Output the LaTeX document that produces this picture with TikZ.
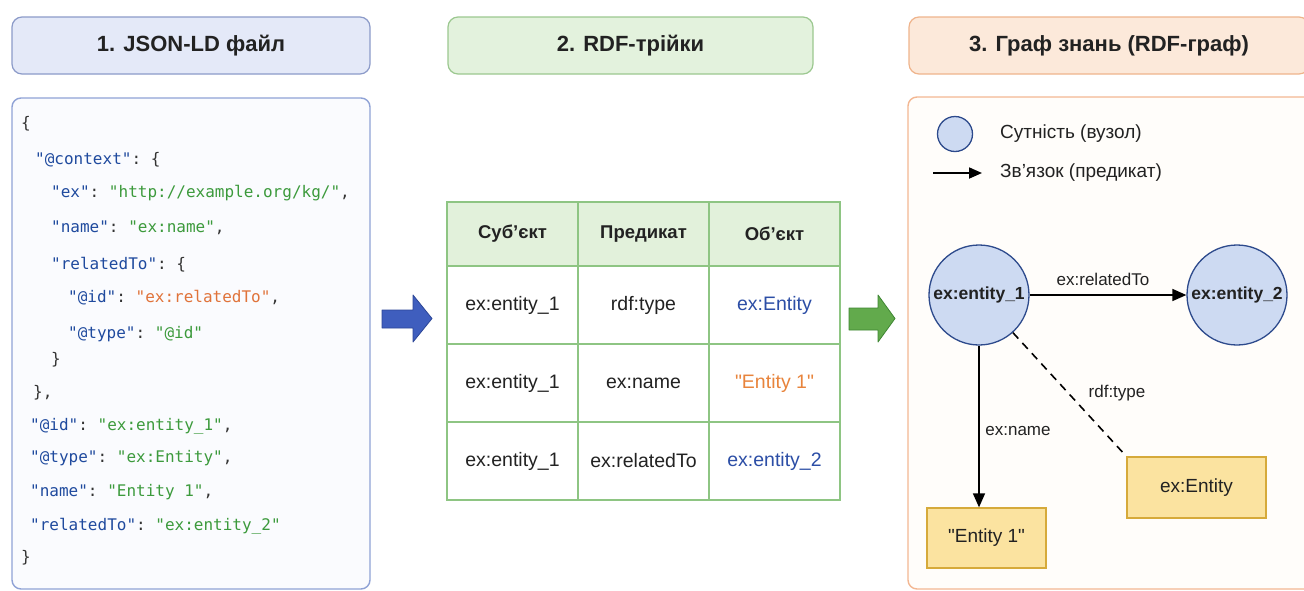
\documentclass[tikz,border=0pt]{standalone}
\usepackage{fontspec}
\setmainfont{Liberation Sans}[Ligatures=TeXOff]
\setmonofont{DejaVu Sans Mono}
\usetikzlibrary{arrows.meta}

% palette
\definecolor{hdrAfill}{HTML}{E4E9F8}
\definecolor{hdrAline}{HTML}{8C9BC9}
\definecolor{hdrBfill}{HTML}{E3F2DD}
\definecolor{hdrBline}{HTML}{9CC890}
\definecolor{hdrCfill}{HTML}{FCE9DA}
\definecolor{hdrCline}{HTML}{EFB48C}
\definecolor{panelAline}{HTML}{8FA2D6}
\definecolor{panelAfill}{HTML}{FAFBFE}
\definecolor{panelCline}{HTML}{F3B792}
\definecolor{panelCfill}{HTML}{FFFDFA}
\definecolor{jsonkey}{HTML}{1F4A9E}
\definecolor{jsonstr}{HTML}{3C9A3C}
\definecolor{jsonorange}{HTML}{E0733A}
\definecolor{jsonpunct}{HTML}{333333}
\definecolor{tblline}{HTML}{8EC583}
\definecolor{tblhead}{HTML}{E2F1DB}
\definecolor{valblue}{HTML}{2C4EA6}
\definecolor{valorange}{HTML}{E8843C}
\definecolor{arrowblue}{HTML}{3F5EBE}
\definecolor{arrowblueline}{HTML}{2C4697}
\definecolor{arrowgreen}{HTML}{62AA4C}
\definecolor{arrowgreenline}{HTML}{3E8632}
\definecolor{nodefill}{HTML}{CDDAF2}
\definecolor{nodeline}{HTML}{2D4A8C}
\definecolor{litfill}{HTML}{FBE3A0}
\definecolor{litline}{HTML}{D6AA3A}
\definecolor{ink}{HTML}{222222}

\newcommand\jkey[1]{\textcolor{jsonkey}{"#1"}}
\newcommand\jstr[1]{\textcolor{jsonstr}{"#1"}}
\newcommand\jorg[1]{\textcolor{jsonorange}{"#1"}}

\tikzset{
  header/.style={draw, line width=1.2pt, rounded corners=10pt, minimum height=57pt,
    font=\bfseries\fontsize{22}{22}\selectfont, text=ink},
  panel/.style={line width=1.4pt, rounded corners=9pt},
  codeline/.style={anchor=west, inner sep=0pt, text=jsonpunct,
    font=\ttfamily\fontsize{16}{16}\selectfont, text height=11pt, text depth=3pt},
  cell/.style={draw=tblline, line width=1.3pt, minimum width=131pt, minimum height=78pt,
    inner sep=0pt, text=ink, font=\fontsize{19.5}{19.5}\selectfont},
  headcell/.style={cell, fill=tblhead, minimum height=64pt, font=\bfseries\fontsize{18.5}{18.5}\selectfont},
  entity/.style={circle, draw=nodeline, fill=nodefill, line width=1.3pt, minimum size=100pt,
    inner sep=0pt, text=ink, font=\bfseries\fontsize{17.5}{17.5}\selectfont},
  literal/.style={draw=litline, fill=litfill, line width=1.3pt, inner sep=0pt, text=ink,
    font=\fontsize{19}{19}\selectfont},
  edgelabel/.style={text=ink, inner sep=0pt, font=\fontsize{17}{17}\selectfont},
  legendtext/.style={anchor=west, text=ink, inner sep=0pt, font=\fontsize{19}{19}\selectfont},
  rel/.style={line width=1.6pt, -{Triangle[length=14pt,width=12pt]}},
}

\begin{document}
\begin{tikzpicture}[x=1pt,y=-1pt]
\useasboundingbox (0,0) rectangle (1304,590);
\clip (0,0) rectangle (1304,590);
\fill[white] (0,0) rectangle (1304,590);

% column headers
\node[header, fill=hdrAfill, draw=hdrAline, minimum width=358pt] (hA) at (191,45.5) {1. JSON-LD файл};
\node[header, fill=hdrBfill, draw=hdrBline, minimum width=365pt] (hB) at (630.5,45.5) {2. RDF-трійки};
\node[header, fill=hdrCfill, draw=hdrCline, minimum width=400pt] (hC) at (1109,45.5) {3. Граф знань (RDF-граф)};

% panels
\draw[panel, draw=panelAline, fill=panelAfill] (12,98) rectangle (370,589);
\draw[panel, draw=panelCline, fill=panelCfill] (908,97) rectangle (1318,589);

% JSON-LD source
\node[codeline] (c1)  at (21,124) {\{};
\node[codeline] (c2)  at (35,160) {\jkey{@context}: \{};
\node[codeline] (c3)  at (51,193) {\jkey{ex}: \jstr{http://example.org/kg/},};
\node[codeline] (c4)  at (51,228) {\jkey{name}: \jstr{ex:name},};
\node[codeline] (c5)  at (51,265) {\jkey{relatedTo}: \{};
\node[codeline] (c6)  at (68,298) {\jkey{@id}: \jorg{ex:relatedTo},};
\node[codeline] (c7)  at (68,334) {\jkey{@type}: \jstr{@id}};
\node[codeline] (c8)  at (51,360) {\}};
\node[codeline] (c9)  at (33,393) {\},};
\node[codeline] (c10) at (30,426) {\jkey{@id}: \jstr{ex:entity\_1},};
\node[codeline] (c11) at (30,458) {\jkey{@type}: \jstr{ex:Entity},};
\node[codeline] (c12) at (30,492) {\jkey{name}: \jstr{Entity 1},};
\node[codeline] (c13) at (30,526) {\jkey{relatedTo}: \jstr{ex:entity\_2}};
\node[codeline] (c14) at (21,558) {\}};

% step arrows
\draw[fill=arrowblue, draw=arrowblueline, line width=0.8pt, line join=round]
  (382,310) -- (413,310) -- (413,295) -- (432,318.5) -- (413,342) -- (413,328) -- (382,328) -- cycle;
\draw[fill=arrowgreen, draw=arrowgreenline, line width=0.8pt, line join=round]
  (849,308) -- (878,308) -- (878,295) -- (895,318.5) -- (878,342) -- (878,330) -- (849,330) -- cycle;

% triple table
\node[headcell] (t00) at (512.5,234) {Суб’єкт};
\node[headcell] (t01) at (643.5,234) {Предикат};
\node[headcell] (t02) at (774.5,234) {Об’єкт};
\node[cell] (t10) at (512.5,305) {ex:entity\_1};
\node[cell] (t11) at (643.5,305) {rdf:type};
\node[cell, text=valblue] (t12) at (774.5,305) {ex:Entity};
\node[cell] (t20) at (512.5,383) {ex:entity\_1};
\node[cell] (t21) at (643.5,383) {ex:name};
\node[cell, text=valorange] (t22) at (774.5,383) {"Entity 1"};
\node[cell] (t30) at (512.5,461) {ex:entity\_1};
\node[cell] (t31) at (643.5,461) {ex:relatedTo};
\node[cell, text=valblue] (t32) at (774.5,461) {ex:entity\_2};

% legend
\node[circle, draw=nodeline, fill=nodefill, line width=1.3pt, minimum size=35pt, inner sep=0pt] (lgnode) at (955,134) {};
\node[legendtext] (lgnodetxt) at (1000,134) {Сутність (вузол)};
\coordinate (lgfrom) at (933,173);
\coordinate (lgto) at (982,173);
\draw[line width=1.8pt, -{Triangle[length=13pt,width=11pt]}] (lgfrom) -- (lgto);
\node[legendtext] (lgreltxt) at (1000,173) {Зв’язок (предикат)};

% knowledge graph
\node[entity] (e1) at (979,295) {ex:entity\_1};
\node[entity] (e2) at (1237,295) {ex:entity\_2};
\node[literal, minimum width=119pt, minimum height=60pt] (lit) at (986.5,538) {"Entity 1"};
\node[literal, minimum width=139pt, minimum height=61pt] (cls) at (1196.5,487.5) {ex:Entity};

\draw[rel] (e1) -- (e2);
\draw[rel] (e1.south) -- (e1.south |- lit.north);
\draw[line width=1.6pt, dash pattern=on 8pt off 6pt] (e1.-48) -- (cls.north west);

\node[edgelabel] (lrel) at (1103,279) {ex:relatedTo};
\node[edgelabel] (lname) at (1018,431) {ex:name};
\node[edgelabel] (ltype) at (1117,393) {rdf:type};
\end{tikzpicture}
\end{document}
